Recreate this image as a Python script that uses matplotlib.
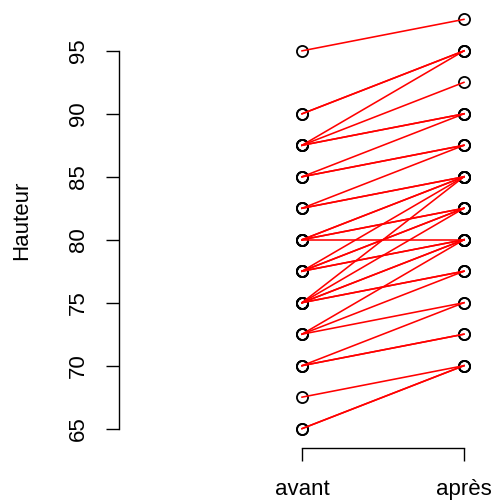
import matplotlib
matplotlib.use("Agg")
import matplotlib.pyplot as plt

plt.rcParams['font.family'] = ['Liberation Sans', 'DejaVu Sans']

# paired heights (avant -> après)
avant = [95, 90, 90, 87.5, 87.5, 87.5, 87.5, 85, 85, 85, 82.5, 82.5, 82.5,
         80, 80, 80, 80, 80, 77.5, 77.5, 77.5, 77.5, 77.5,
         75, 75, 75, 75, 75, 75, 72.5, 72.5, 72.5, 70, 70, 70, 67.5, 65, 65]
apres = [97.5, 95, 95, 95, 92.5, 90, 90, 90, 87.5, 87.5, 87.5, 85, 85,
         85, 85, 82.5, 82.5, 80, 85, 82.5, 82.5, 80, 80,
         85, 82.5, 80, 80, 77.5, 77.5, 80, 77.5, 75, 75, 72.5, 72.5, 70, 70, 70]
groups = ["avant", "après"]
yticks = [65, 70, 75, 80, 85, 90, 95]

W, H = 495, 501
fig = plt.figure(figsize=(W / 100, H / 100), dpi=100)
ax = fig.add_axes([119 / W, (H - 445) / H, (485 - 119) / W, (445 - 3) / H])

for a, b in zip(avant, apres):
    ax.plot([1, 2], [a, b], color="red", lw=1.15, zorder=3)
ax.plot([1] * len(avant), avant, "o", mfc="none", mec="black", ms=8, mew=1.3, ls="none", zorder=2)
ax.plot([2] * len(apres), apres, "o", mfc="none", mec="black", ms=8, mew=1.3, ls="none", zorder=2)

ax.set_xlim(-0.13, 2.13)
ax.set_ylim(63.7, 98.8)
for s in ["top", "right"]:
    ax.spines[s].set_visible(False)
ax.spines["left"].set_bounds(65, 95)
ax.spines["bottom"].set_bounds(1, 2)
ax.spines["bottom"].set_position(("outward", 2))
for s in ["left", "bottom"]:
    ax.spines[s].set_linewidth(1.0)

ax.set_xticks([1, 2])
ax.set_xticklabels(groups)
ax.set_yticks(yticks)
ax.set_yticklabels([str(v) for v in yticks], rotation=90, va="center")
ax.tick_params(axis="both", direction="out", length=9.5, width=1.0, labelsize=16)
ax.tick_params(axis="y", pad=12)
ax.tick_params(axis="x", pad=13)

fig.text(22 / W, (H - 220) / H, "Hauteur", rotation=90, ha="center", va="center", fontsize=16)

fig.savefig("out.png", dpi=100)
